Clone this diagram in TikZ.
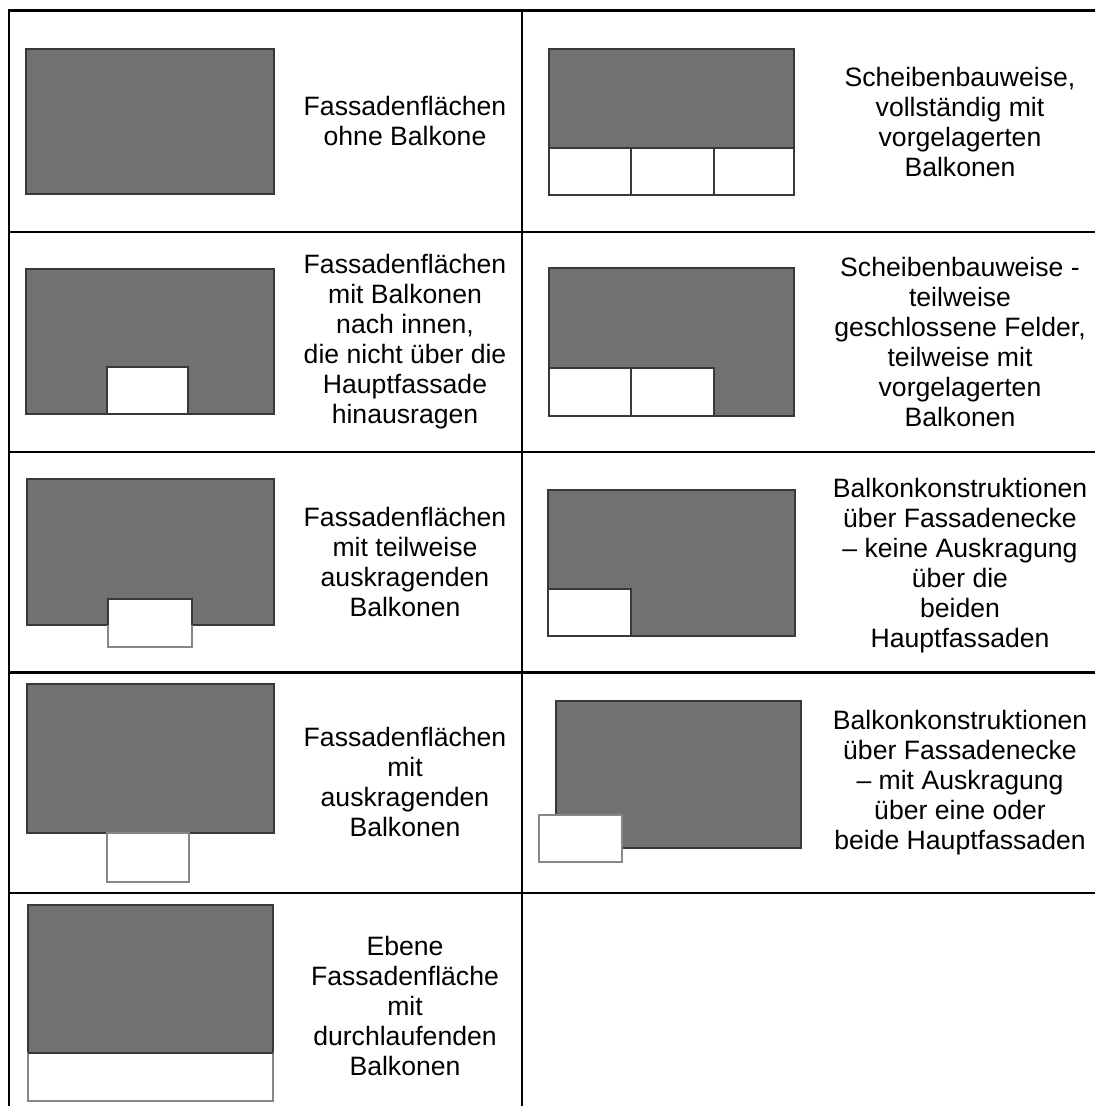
\documentclass[tikz,border=0pt]{standalone}
\usepackage{fontspec}
\setmainfont{Liberation Sans}
\definecolor{fgray}{RGB}{114,112,113}
\definecolor{edark}{RGB}{58,55,56}
\definecolor{elight}{RGB}{135,135,135}
\begin{document}
\begin{tikzpicture}[x=0.5pt,y=-0.5pt,
  gridline/.style={line width=1.05pt,black,line cap=rect},
  facade/.style={fill=fgray,draw=edark,line width=0.65pt},
  balc/.style={fill=white,draw=edark,line width=0.65pt},
  balcout/.style={fill=white,draw=elight,line width=0.75pt},
  lbl/.style={align=center,inner sep=0pt,font=\fontsize{13.3}{15}\selectfont}]
\useasboundingbox (0,0) rectangle (1094,1106);
% table grid
\foreach \yy in {10.5,231.7,452,672.5,893} \draw[gridline] (9,\yy) -- (1094,\yy);
\draw[gridline] (9,10.5) -- (9,1110);
\draw[gridline] (522,10.5) -- (522,1110);

% left column pictures
\draw[facade] (26,49) rectangle (274,194);

\draw[facade] (26,269) rectangle (274,414);
\draw[balc] (107,367) rectangle (188,414);

\draw[facade] (27,479) rectangle (274,625);
\draw[balcout] (108,599) rectangle (192,647);
\draw[edark,line width=0.65pt] (108,625) -- (108,599) -- (192,599) -- (192,625);

\draw[facade] (27,684) rectangle (274,833);
\draw[balcout] (107,833) rectangle (189,882);

\draw[facade] (28,905) rectangle (273,1053);
\draw[balcout] (28,1053) rectangle (273,1101);
\draw[edark,line width=0.65pt] (28,1053) -- (273,1053);

% right column pictures
\draw[facade] (549,49) rectangle (794,148);
\draw[balc] (549,148) rectangle (631,195);
\draw[balc] (631,148) rectangle (714,195);
\draw[balc] (714,148) rectangle (794,195);

\draw[facade] (549,268) rectangle (794,416);
\draw[balc] (549,368) rectangle (631,416);
\draw[balc] (631,368) rectangle (714,416);

\draw[facade] (548,490) rectangle (795,636);
\draw[balc] (548,589) rectangle (631,636);

\draw[facade] (556,701) rectangle (801,848);
\draw[balcout] (539,815) rectangle (622,862);

% labels
\node[lbl] (t1) at (405,121) {Fassadenflächen\\ohne Balkone};
\node[lbl] (t2) at (405,342) {Fassadenflächen\\mit Balkonen\\nach innen,\\die nicht über die\\Hauptfassade\\hinausragen};
\node[lbl] (t3) at (405,562) {Fassadenflächen\\mit teilweise\\auskragenden\\Balkonen};
\node[lbl] (t4) at (405,782) {Fassadenflächen\\mit\\auskragenden\\Balkonen};
\node[lbl] (t5) at (405,1006) {Ebene\\Fassadenfläche\\mit\\durchlaufenden\\Balkonen};

\node[lbl] (r1) at (960,122) {Scheibenbauweise,\\vollständig mit\\vorgelagerten\\Balkonen};
\node[lbl] (r2) at (960,342) {Scheibenbauweise -\\teilweise\\geschlossene Felder,\\teilweise mit\\vorgelagerten\\Balkonen};
\node[lbl] (r3) at (960,566) {Balkonkonstruktionen\\über Fassadenecke\\– keine Auskragung\\über die\\beiden\\Hauptfassaden};
\node[lbl] (r4) at (960,783) {Balkonkonstruktionen\\über Fassadenecke\\– mit Auskragung\\über eine oder\\beide Hauptfassaden};
\end{tikzpicture}
\end{document}
